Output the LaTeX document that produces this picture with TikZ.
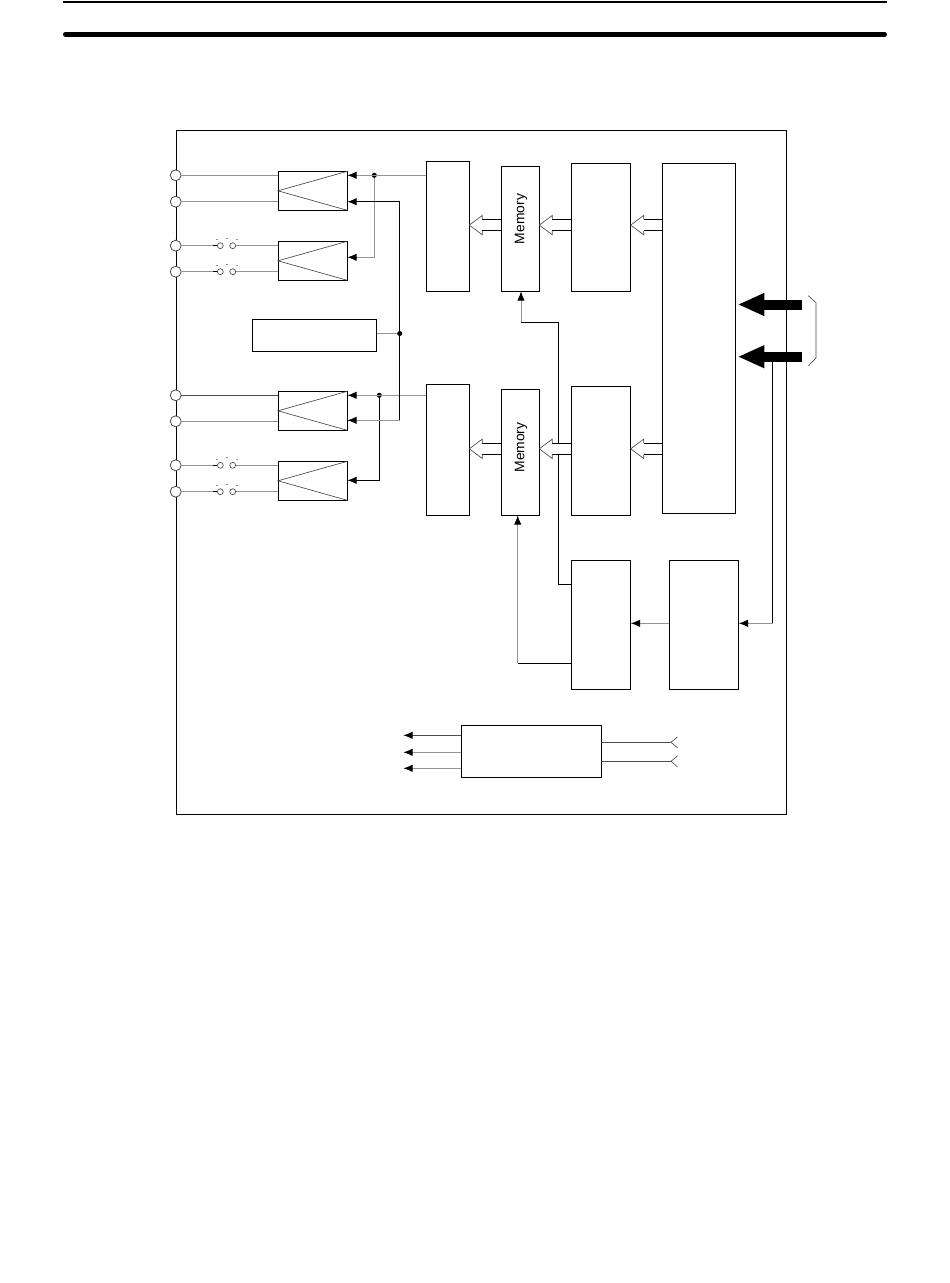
\documentclass[tikz,border=0pt]{standalone}
\usepackage{fontspec}
\setmainfont{Liberation Sans}
\usetikzlibrary{arrows.meta,calc}
\definecolor{wireg}{gray}{0.58}
\definecolor{wired}{gray}{0.3}
\newcommand{\blk}[5]{%
  \pgfmathsetmacro{\bw}{(#4-#2)*0.75}\pgfmathsetmacro{\bh}{(#5-#3)*0.75}%
  \node[blkbox,minimum width=\bw pt,minimum height=\bh pt] (#1) at ({(#2+#4)/2},{(#3+#5)/2}) {};}
% amplifier box with its triangle
\newcommand{\amp}[2]{%
  \blk{#1}{278}{#2}{347.3}{#2+39}
  \draw[thinw] (#1.east |- #1.north) -- (#1.west) -- (#1.south east);}
% hollow bus arrow: from node, to node, mid y, half shaft
\newcommand{\hollow}[4]{%
  \coordinate (ht) at (#2.east |- 0,#3);
  \coordinate (hb) at (#1.west |- 0,#3);
  \fill[white] ($(hb)+(-1,-#4)$) -- ($(ht)+(13,-#4)$) -- ($(ht)+(13,-9.7)$) -- (ht) -- ($(ht)+(13,9.7)$) -- ($(ht)+(13,#4)$) -- ($(hb)+(-1,#4)$) -- cycle;
  \draw[blkw] ($(hb)+(0,-#4)$) -- ($(ht)+(13,-#4)$);
  \draw[blkw] ($(hb)+(0,#4)$) -- ($(ht)+(13,#4)$);
  \draw[thinw] ($(ht)+(13,-#4)$) -- ($(ht)+(13,-9.7)$) -- (ht) -- ($(ht)+(13,9.7)$) -- ($(ht)+(13,#4)$);}
% switch on a terminal line
\newcommand{\switch}[3]{%
  \node[swc] (#1a) at (220.3,#2) {};
  \node[swc] (#1b) at (232.7,#2) {};
  \draw[gw] (#3) -- (#1a);
  \draw[blkw] ([xshift=-3pt]#1a.west) -- (#1a.west);
  \draw[gw] (#1b) -- (#1b -| 278,0);
  \draw[dsh] (215.7,#2-6.3) -- +(2,0);
  \draw[dsh] (225.7,#2-7.5) -- +(2,0);
  \draw[dsh] (235.7,#2-6.3) -- +(2,0);}
\tikzset{
  x=0.75pt,y=-0.75pt,
  blkbox/.style={draw=black,line width=0.75pt,inner sep=0pt,outer sep=0pt,fill=white},
  blkw/.style={draw=black,line width=0.75pt},
  gw/.style={draw=wireg,line width=0.75pt},
  dw/.style={draw=wired,line width=0.75pt},
  thinw/.style={draw=wired,line width=0.5pt},
  dsh/.style={draw=wireg,line width=0.5pt},
  tip/.style={-{Latex[black,length=7pt,width=5.6pt]}},
  term/.style={circle,draw=wired,line width=0.6pt,fill=white,minimum size=8.2pt,inner sep=0pt,outer sep=0pt},
  swc/.style={circle,draw=wired,line width=0.5pt,fill=white,minimum size=4.4pt,inner sep=0pt,outer sep=0pt},
  dotn/.style={circle,fill=black,minimum size=3.8pt,inner sep=0pt,outer sep=0pt},
  memlab/.style={rotate=90,font=\fontsize{10.4pt}{12pt}\selectfont,inner sep=0pt},
  fat/.style={draw=black,line width=7.5pt,-{Triangle[black,length=20pt,width=15.8pt]}},
  brk/.style={draw=wired,line width=0.5pt},
}
\begin{document}
\begin{tikzpicture}
\useasboundingbox (0,0) rectangle (950,1283);
\fill[white] (0,0) rectangle (950,1283);
% header rules
\coordinate (ha) at (63,2); \coordinate (hb) at (887,2);
\coordinate (hc) at (65.4,34.4); \coordinate (hd) at (884.6,34.4);
\draw[black,line width=1.5pt] (ha) -- (hb);
\draw[black,line width=3.6pt,line cap=round] (hc) -- (hd);
% frame
\blk{frame}{176.6}{130}{786.4}{814.3}
% blocks
\blk{dac}{426.3}{161.3}{469.3}{291.3}
\blk{mem}{501.3}{166.3}{539.3}{291.3}
\blk{ctl}{571.3}{163.3}{630.7}{291.3}
\blk{dacb}{426.3}{384.3}{469.3}{515.3}
\blk{memb}{501.3}{389.3}{539.3}{515.3}
\blk{ctlb}{571.3}{386.3}{630.7}{515.3}
\blk{big}{662.3}{163.3}{735.3}{513.3}
\blk{seq}{571.3}{560.3}{630.7}{689.3}
\blk{clk}{669.3}{560.3}{738.7}{689.3}
\blk{ref}{252.3}{319.3}{376.7}{351}
\blk{pwr}{461.3}{725.3}{601.3}{777.3}
\node[memlab] at ([xshift=0.6pt]mem.center |- 0,219) {Memory};
\node[memlab] at ([xshift=0.6pt]memb.center |- 0,447.5) {Memory};
% amplifiers
\amp{a}{171.3}
\amp{b}{241.3}
\amp{c}{391.3}
\amp{d}{461.3}
% terminals
\node[term] (t1) at (175.7,175.3) {};
\node[term] (t2) at (175.7,201.7) {};
\node[term] (t3) at (175.7,245.7) {};
\node[term] (t4) at (175.7,271.7) {};
\node[term] (t5) at (175.7,395.3) {};
\node[term] (t6) at (175.7,421.3) {};
\node[term] (t7) at (175.7,465.3) {};
\node[term] (t8) at (175.7,491.7) {};
\draw[gw] (t1) -- (a.west |- t1);
\draw[gw] (t2) -- (a.west |- t2);
\draw[dw] (t5) -- (c.west |- t5);
\draw[gw] (t6) -- (c.west |- t6);
\switch{s3}{245.7}{t3}
\switch{s4}{271.7}{t4}
\switch{s7}{465.3}{t7}
\switch{s8}{491.7}{t8}
% upper bus
\node[dotn] (j1) at (374.3,175.3) {};
\draw[gw,tip] (dac.west |- j1) -- (a.east |- j1);
\coordinate (j1b) at (374.3,257.3);
\draw[gw,tip] (j1) -- (j1b) -- (b.east |- j1b);
% lower bus
\node[dotn] (j2) at (379.3,395.3) {};
\draw[gw,tip] (dacb.west |- j2) -- (c.east |- j2);
\coordinate (j2b) at (379.3,480.3);
\draw[blkw,tip] (j2) -- (j2b) -- (d.east |- j2b);
% reference
\node[dotn] (j3) at (399.7,333.5) {};
\draw[gw] (ref.east |- j3) -- (j3);
\coordinate (j3a) at (399.7,201.7);
\coordinate (j3b) at (399.7,420.3);
\draw[blkw,tip] (j3) -- (j3a) -- (a.east |- j3a);
\draw[blkw] (j3) -- (j3b);
\draw[gw,tip] (j3b) -- (c.east |- j3b);
% sequencer to memories
\coordinate (q1) at (558.3,584.3);
\coordinate (q2) at (558.3,322.3);
\coordinate (q3) at (521,322.3);
\draw[blkw] (seq.west |- q1) -- (q1) -- (q2) -- (q3);
\draw[gw,tip] (q3) -- (q3 |- mem.south);
\coordinate (r1) at (517.7,663.3);
\draw[blkw] (seq.west |- r1) -- (r1);
\draw[gw,tip] (r1) -- (r1 |- memb.south);
% hollow buses
\hollow{mem}{dac}{225.1}{5.85}
\hollow{ctl}{mem}{225.1}{5.85}
\hollow{big}{ctl}{225.1}{5.85}
\hollow{memb}{dacb}{448.8}{5.5}
\hollow{ctlb}{memb}{448.8}{5.5}
\hollow{big}{ctlb}{448.8}{5.5}
% external bus
\coordinate (f1) at (802,304.5);
\coordinate (f2) at (802,356.7);
\coordinate (f1t) at (737.7,304.5);
\coordinate (f2t) at (737.7,356.7);
\coordinate (v1) at (772.5,623.3);
\coordinate (v0) at (772.5,356.7);
\draw[blkw] (v0) -- (v1);
\draw[gw,tip] (v1) -- (clk.east |- v1);
\draw[gw,tip] (clk.west |- v1) -- (seq.east |- v1);
\draw[fat] (f1) -- (f1t);
\draw[fat] (f2) -- (f2t);
\coordinate (k1) at (808.3,295.7);
\coordinate (k2) at (816,302.7);
\coordinate (k3) at (816,358);
\coordinate (k4) at (808.3,366);
\draw[brk] (k1) -- (k2) -- (k3) -- (k4);
% power block
\coordinate (p1) at (403.3,735.3);
\coordinate (p2) at (403.3,752.3);
\coordinate (p3) at (403.3,768.3);
\draw[dw,tip] (pwr.west |- p1) -- (p1);
\draw[gw,tip] (pwr.west |- p2) -- (p2);
\draw[gw,tip] (pwr.west |- p3) -- (p3);
\coordinate (c1) at (671,742.3);
\coordinate (c2) at (671,761.3);
\draw[dw] (pwr.east |- c1) -- (c1);
\draw[dw] (pwr.east |- c2) -- (c2);
\draw[brk] ($(c1)+(6.5,-5.5)$) -- (c1) -- ($(c1)+(6.5,5.5)$);
\draw[brk] ($(c2)+(6.5,-5.5)$) -- (c2) -- ($(c2)+(6.5,5.5)$);
\end{tikzpicture}
\end{document}
